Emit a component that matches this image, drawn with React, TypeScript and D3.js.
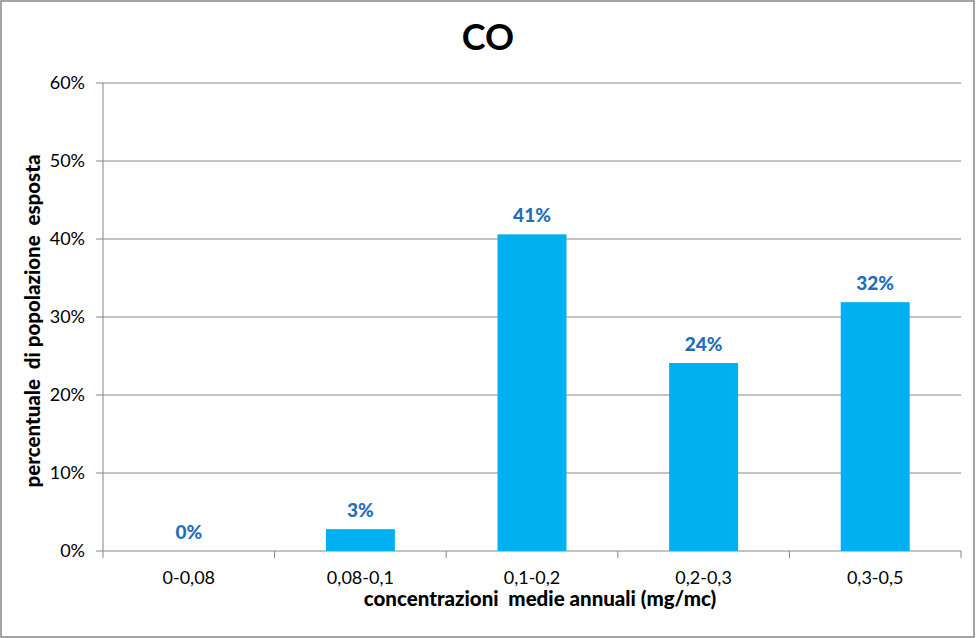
import React from "react";
import * as d3 from "d3";

const categories = ["0-0,08", "0,08-0,1", "0,1-0,2", "0,2-0,3", "0,3-0,5"];
const values = [0, 0.028, 0.406, 0.241, 0.319];
const labels = ["0%", "3%", "41%", "24%", "32%"];
const yTicks = [0, 0.1, 0.2, 0.3, 0.4, 0.5, 0.6];

const W = 976;
const H = 638;
const FONT = "Lato, 'Open Sans', sans-serif";

export default function App() {
  const left = 103, right = 961, top = 83, bottom = 551;
  const x = d3.scaleBand<string>().domain(categories).range([left, right]).padding(0);
  const y = d3.scaleLinear().domain([0, 0.6]).range([bottom, top]);
  const bw = x.step() * 0.402;
  const fmt = d3.format(".0%");
  return (
    <svg width={W} height={H} style={{ position: "absolute", left: 0, top: 0 }}>
      <rect x={0} y={0} width={W} height={H} fill="#fff" />
      <rect x={1} y={1} width={973} height={636} fill="none" stroke="#868686" strokeWidth={1.5} />
      <text x={488} y={50} textAnchor="middle" fontFamily={FONT} fontWeight="bold" fontSize={36} fill="#000">CO</text>
      {yTicks.map((t) => (
        <g key={t}>
          <line x1={96} x2={right} y1={y(t)} y2={y(t)} stroke="#868686" strokeWidth={1} />
          <text x={85} y={y(t) + 6} textAnchor="end" fontFamily={FONT} fontSize={18} fill="#000">{fmt(t)}</text>
        </g>
      ))}
      <line x1={left} x2={left} y1={top} y2={bottom + 7} stroke="#868686" strokeWidth={1} />
      {categories.map((c, i) => (
        <line key={"t" + i} x1={(x(c) as number) + x.step()} x2={(x(c) as number) + x.step()} y1={bottom} y2={bottom + 7} stroke="#868686" strokeWidth={1} />
      ))}
      {categories.map((c, i) => {
        const cx = (x(c) as number) + x.step() / 2;
        return (
          <g key={c}>
            <rect x={cx - bw / 2} y={y(values[i])} width={bw} height={bottom - y(values[i])} fill="#00B0F0" />
            <text x={cx} y={y(values[i]) - 12} textAnchor="middle" fontFamily={FONT} fontWeight="900" fontSize={19} fill="#1F70B8">{labels[i]}</text>
            <text x={cx} y={584} textAnchor="middle" fontFamily={FONT} fontSize={18} fill="#000">{c}</text>
          </g>
        );
      })}
      <text x={540} y={606} textAnchor="middle" fontFamily={FONT} fontWeight="900" fontSize={20.5} fill="#000" style={{ whiteSpace: "pre" }}>concentrazioni  medie annuali (mg/mc)</text>
      <text transform="translate(40,321) rotate(-90)" textAnchor="middle" fontFamily={FONT} fontWeight="900" fontSize={20.5} fill="#000" style={{ whiteSpace: "pre" }}>percentuale  di popolazione  esposta</text>
    </svg>
  );
}
